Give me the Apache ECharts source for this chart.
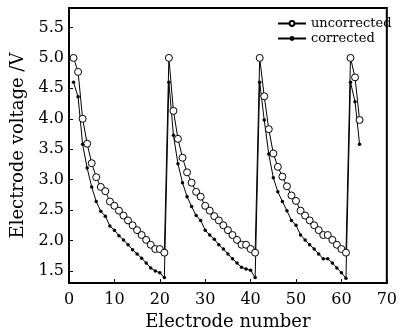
<!DOCTYPE html>
<html>
<head>
<meta charset="utf-8">
<script src="https://cdn.jsdelivr.net/npm/echarts@6/dist/echarts.min.js"></script>
<style>
  html, body { margin: 0; padding: 0; background: #fff; }
  #chart { width: 400px; height: 336px; }
</style>
</head>
<body>
<div id="chart"></div>
<script>
const electrodes = [
  1, 2, 3, 4, 5, 6, 7, 8, 9, 10, 11, 12, 13, 14, 15, 16, 17, 18, 19, 20, 21,
  22, 23, 24, 25, 26, 27, 28, 29, 30, 31, 32, 33, 34, 35, 36, 37, 38, 39, 40, 41,
  42, 43, 44, 45, 46, 47, 48, 49, 50, 51, 52, 53, 54, 55, 56, 57, 58, 59, 60, 61,
  62, 63, 64
];
const uncorrected = [
  5.00, 4.77, 4.00, 3.59, 3.27, 3.04, 2.88, 2.81, 2.64, 2.57, 2.49, 2.41, 2.33, 2.25, 2.17, 2.09, 2.01, 1.93, 1.86, 1.86, 1.80,
  5.00, 4.13, 3.67, 3.36, 3.12, 2.95, 2.80, 2.72, 2.57, 2.49, 2.40, 2.33, 2.25, 2.17, 2.09, 2.01, 1.93, 1.93, 1.86, 1.80,
  5.00, 4.37, 3.83, 3.43, 3.21, 3.05, 2.89, 2.74, 2.65, 2.49, 2.41, 2.33, 2.25, 2.17, 2.09, 2.09, 2.01, 1.93, 1.86, 1.80,
  5.00, 4.68, 3.98
];
const corrected = [
  4.60, 4.36, 3.58, 3.19, 2.88, 2.64, 2.48, 2.40, 2.24, 2.17, 2.08, 2.01, 1.93, 1.85, 1.78, 1.71, 1.63, 1.55, 1.50, 1.47, 1.39,
  4.60, 3.73, 3.26, 2.95, 2.72, 2.56, 2.41, 2.33, 2.17, 2.09, 2.02, 1.93, 1.86, 1.78, 1.70, 1.63, 1.56, 1.53, 1.51, 1.39,
  4.60, 3.98, 3.42, 3.03, 2.80, 2.64, 2.49, 2.33, 2.25, 2.09, 2.01, 1.93, 1.86, 1.78, 1.70, 1.70, 1.63, 1.55, 1.47, 1.38,
  4.60, 4.28, 3.58
];
const yTicks = [1.5, 2.0, 2.5, 3.0, 3.5, 4.0, 4.5, 5.0, 5.5];

const font = 'DejaVu Serif';
const chart = echarts.init(document.getElementById('chart'));

chart.setOption({
  animation: false,
  backgroundColor: '#fff',
  textStyle: { fontFamily: font, color: '#000' },
  grid: {
    left: 69, right: 11, top: 8, bottom: 50,
    show: true, borderColor: '#000', borderWidth: 2
  },
  legend: {
    orient: 'vertical', left: 272, top: 12,
    itemWidth: 28, itemHeight: 6, itemGap: 2,
    textStyle: { fontFamily: font, fontSize: 13, color: '#000' },
    data: ['uncorrected', 'corrected']
  },
  xAxis: {
    type: 'value', min: 0, max: 70, interval: 10,
    name: 'Electrode number', nameLocation: 'middle', nameGap: 29,
    nameTextStyle: { fontFamily: font, fontSize: 18, color: '#000' },
    axisLine: { lineStyle: { color: '#000', width: 2 } },
    axisTick: { inside: true, length: 4, lineStyle: { color: '#000' } },
    axisLabel: { fontFamily: font, fontSize: 16, color: '#000', margin: 9 },
    splitLine: { show: false }
  },
  yAxis: {
    type: 'value', min: 1.3, max: 5.82,
    name: 'Electrode voltage /V', nameLocation: 'middle', nameGap: 37,
    nameTextStyle: { fontFamily: font, fontSize: 18, color: '#000' },
    axisLine: { lineStyle: { color: '#000', width: 2 } },
    axisTick: { inside: true, length: 4, customValues: yTicks, lineStyle: { color: '#000' } },
    axisLabel: {
      fontFamily: font, fontSize: 16, color: '#000', margin: 5,
      customValues: yTicks, formatter: v => v.toFixed(1)
    },
    splitLine: { show: false }
  },
  series: [
    {
      name: 'uncorrected', type: 'line',
      data: electrodes.map((e, i) => [e, uncorrected[i]]),
      symbol: 'circle', symbolSize: 7,
      lineStyle: { color: '#000', width: 1 },
      itemStyle: { color: '#fff', borderColor: '#000', borderWidth: 1 }
    },
    {
      name: 'corrected', type: 'line',
      data: electrodes.map((e, i) => [e, corrected[i]]),
      symbol: 'circle', symbolSize: 3.5,
      lineStyle: { color: '#000', width: 1 },
      itemStyle: { color: '#000' }
    }
  ]
});
</script>
</body>
</html>
